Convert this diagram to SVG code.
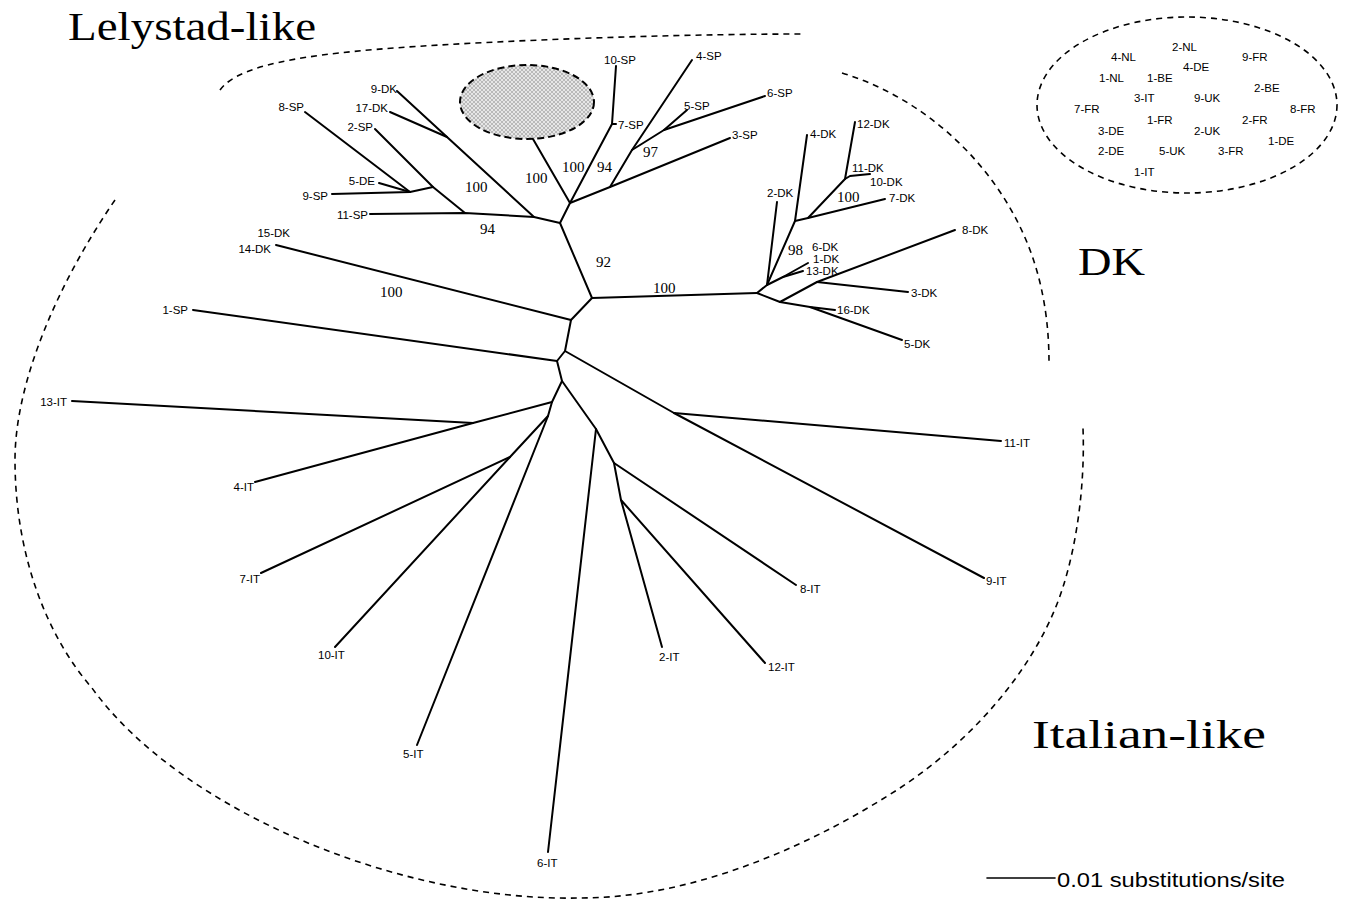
<svg xmlns="http://www.w3.org/2000/svg" width="1356" height="899" viewBox="0 0 1356 899">
<style>
.br{stroke:#000;stroke-width:2;fill:none;stroke-linecap:round;stroke-linejoin:round}
.lb{font-family:"Liberation Sans",Arial,sans-serif;font-size:11.5px;fill:#000}
.e{text-anchor:end}
.bs{font-family:"Liberation Serif","Times New Roman",serif;font-size:15px;fill:#000}
.big{font-family:"Liberation Serif","Times New Roman",serif;font-size:41px;fill:#000}
.dash{stroke:#000;stroke-width:1.6;fill:none;stroke-dasharray:6 5}
</style>
<defs>
<pattern id="hatch" width="4" height="4" patternUnits="userSpaceOnUse">
<rect width="4" height="4" fill="#e6e6e6"/>
<path d="M0,4 L4,0 M0,0 L4,4" stroke="#9a9a9a" stroke-width="0.6"/>
</pattern>
</defs>
<rect width="1356" height="899" fill="#fff"/>

<g id="clusters">
<path class="dash" d="M220,90 C240,62 320,52 440,45 C560,38 700,34 805,34"/>
<path class="dash" d="M842,73 C930,100 1000,170 1030,250 C1045,290 1049,330 1049,362"/>
<path class="dash" d="M115,200 C60,280 15,380 15,460 C15,560 50,640 92,688 C180,810 400,902 580,898 C700,898 820,840 900,788 C980,735 1040,660 1063,587 C1078,540 1085,480 1083,428"/>
<ellipse id="hidden-group" cx="527" cy="102" rx="67" ry="37" fill="url(#hatch)" stroke="#000" stroke-width="2" stroke-dasharray="7 4"/>
<ellipse id="europe-group" cx="1187" cy="105" rx="150" ry="88" fill="none" class="dash"/>
</g>

<g id="connectors" class="br">
<path d="M560,223 L570,203"/>
<path d="M570,203 L533,139"/>
<path d="M570,203 L612,124 L616,66"/>
<path d="M612,124 L616,124"/>
<path d="M570,203 L610,187 L730,138"/>
<path d="M610,187 L632,150 L692,60"/>
<path d="M632,150 L664,130 L765,96"/>
<path d="M664,130 L687,110"/>
<path d="M560,223 L534,217 L465,213 L370,214"/>
<path d="M534,217 L447,137 L397,91"/>
<path d="M447,137 L390,112"/>
<path d="M465,213 L433,187 L375,129"/>
<path d="M433,187 L410,192 L332,194"/>
<path d="M410,192 L305,112"/>
<path d="M410,192 L379,183"/>
<path d="M560,223 L592,298 L757,293"/>
<path d="M592,298 L571,320 L276,245"/>
<path d="M571,320 L565,351 L557,361 L193,310"/>
<path d="M565,351 L674,413 L984,578"/>
<path d="M674,413 L1001,441"/>
<path d="M557,361 L562,381 L552,402 L473,423 L72,401"/>
<path d="M473,423 L255,482"/>
<path d="M552,402 L548,416 L510,457 L335,647"/>
<path d="M510,457 L261,573"/>
<path d="M548,416 L417,745"/>
<path d="M562,381 L596,429 L548,852"/>
<path d="M596,429 L614,463 L796,585"/>
<path d="M614,463 L621,500 L662,647"/>
<path d="M621,500 L765,663"/>
<path d="M757,293 L767,285 L777,202"/>
<path d="M767,285 L783,277 L808,263"/>
<path d="M783,277 L803,271"/>
<path d="M767,285 L795,221 L807,135"/>
<path d="M795,221 L808,218 L885,199"/>
<path d="M808,218 L845,179 L855,122"/>
<path d="M845,179 L850,176 L870,174"/>
<path d="M757,293 L780,302 L817,282 L955,230"/>
<path d="M817,282 L908,292"/>
<path d="M780,302 L810,307 L835,310"/>
<path d="M810,307 L902,340"/>
<path d="M987,878 L1055,878" stroke-width="1.6"/>
</g>

<g id="bootstrap" class="bs">
<text x="562" y="172">100</text>
<text x="597" y="172">94</text>
<text x="525" y="183">100</text>
<text x="643" y="157">97</text>
<text x="465" y="192">100</text>
<text x="480" y="234">94</text>
<text x="596" y="267">92</text>
<text x="653" y="293">100</text>
<text x="380" y="297">100</text>
<text x="788" y="255">98</text>
<text x="837" y="202">100</text>
</g>

<g id="titles" class="big">
<text x="68" y="40" textLength="248" lengthAdjust="spacingAndGlyphs">Lelystad-like</text>
<text x="1078" y="275" textLength="67" lengthAdjust="spacingAndGlyphs">DK</text>
<text x="1032" y="748" textLength="234" lengthAdjust="spacingAndGlyphs">Italian-like</text>
</g>

<g id="tips" class="lb">
<g id="n-9DK"><text class="e" x="397" y="93">9-DK</text></g>
<g id="n-17DK"><text class="e" x="388" y="112">17-DK</text></g>
<g id="n-8SP"><text class="e" x="304" y="111">8-SP</text></g>
<g id="n-2SP"><text class="e" x="373" y="131">2-SP</text></g>
<g id="n-5DE"><text class="e" x="375" y="185">5-DE</text></g>
<g id="n-9SP"><text class="e" x="328" y="200">9-SP</text></g>
<g id="n-11SP"><text class="e" x="368" y="219">11-SP</text></g>
<g id="n-15DK"><text class="e" x="290" y="237">15-DK</text></g>
<g id="n-14DK"><text class="e" x="271" y="253">14-DK</text></g>
<g id="n-1SP"><text class="e" x="188" y="314">1-SP</text></g>
<g id="n-13IT"><text class="e" x="67" y="406">13-IT</text></g>
<g id="n-4IT"><text class="e" x="254" y="491">4-IT</text></g>
<g id="n-7IT"><text class="e" x="260" y="583">7-IT</text></g>
<g id="n-10IT"><text x="318" y="659">10-IT</text></g>
<g id="n-5IT"><text x="403" y="758">5-IT</text></g>
<g id="n-6IT"><text x="537" y="867">6-IT</text></g>
<g id="n-2IT"><text x="659" y="661">2-IT</text></g>
<g id="n-12IT"><text x="768" y="671">12-IT</text></g>
<g id="n-8IT"><text x="800" y="593">8-IT</text></g>
<g id="n-9IT"><text x="986" y="585">9-IT</text></g>
<g id="n-11IT"><text x="1004" y="447">11-IT</text></g>
<g id="n-10SP"><text x="604" y="64">10-SP</text></g>
<g id="n-7SP"><text x="618" y="129">7-SP</text></g>
<g id="n-4SP"><text x="696" y="60">4-SP</text></g>
<g id="n-5SP"><text x="684" y="110">5-SP</text></g>
<g id="n-6SP"><text x="767" y="97">6-SP</text></g>
<g id="n-3SP"><text x="732" y="139">3-SP</text></g>
<g id="n-12DK"><text x="857" y="128">12-DK</text></g>
<g id="n-4DK"><text x="810" y="138">4-DK</text></g>
<g id="n-11DK"><text x="852" y="172">11-DK</text></g>
<g id="n-10DK"><text x="870" y="186">10-DK</text></g>
<g id="n-7DK"><text x="889" y="202">7-DK</text></g>
<g id="n-2DK"><text x="767" y="197">2-DK</text></g>
<g id="n-8DK"><text x="962" y="234">8-DK</text></g>
<g id="n-6DK"><text x="812" y="251">6-DK</text></g>
<g id="n-1DK"><text x="813" y="263">1-DK</text></g>
<g id="n-13DK"><text x="806" y="275">13-DK</text></g>
<g id="n-3DK"><text x="911" y="297">3-DK</text></g>
<g id="n-16DK"><text x="837" y="314">16-DK</text></g>
<g id="n-5DK"><text x="904" y="348">5-DK</text></g>
</g>

<g id="europe-labels" class="lb">
<text x="1172" y="51">2-NL</text>
<text x="1111" y="61">4-NL</text>
<text x="1242" y="61">9-FR</text>
<text x="1183" y="71">4-DE</text>
<text x="1099" y="82">1-NL</text>
<text x="1147" y="82">1-BE</text>
<text x="1254" y="92">2-BE</text>
<text x="1134" y="102">3-IT</text>
<text x="1194" y="102">9-UK</text>
<text x="1074" y="113">7-FR</text>
<text x="1290" y="113">8-FR</text>
<text x="1147" y="124">1-FR</text>
<text x="1242" y="124">2-FR</text>
<text x="1098" y="135">3-DE</text>
<text x="1194" y="135">2-UK</text>
<text x="1268" y="145">1-DE</text>
<text x="1098" y="155">2-DE</text>
<text x="1159" y="155">5-UK</text>
<text x="1218" y="155">3-FR</text>
<text x="1134" y="176">1-IT</text>
</g>

<g id="scale">
<text x="1057" y="887" font-family="Liberation Sans, Arial, sans-serif" font-size="19.5" textLength="228" lengthAdjust="spacingAndGlyphs">0.01 substitutions/site</text>
</g>
</svg>
